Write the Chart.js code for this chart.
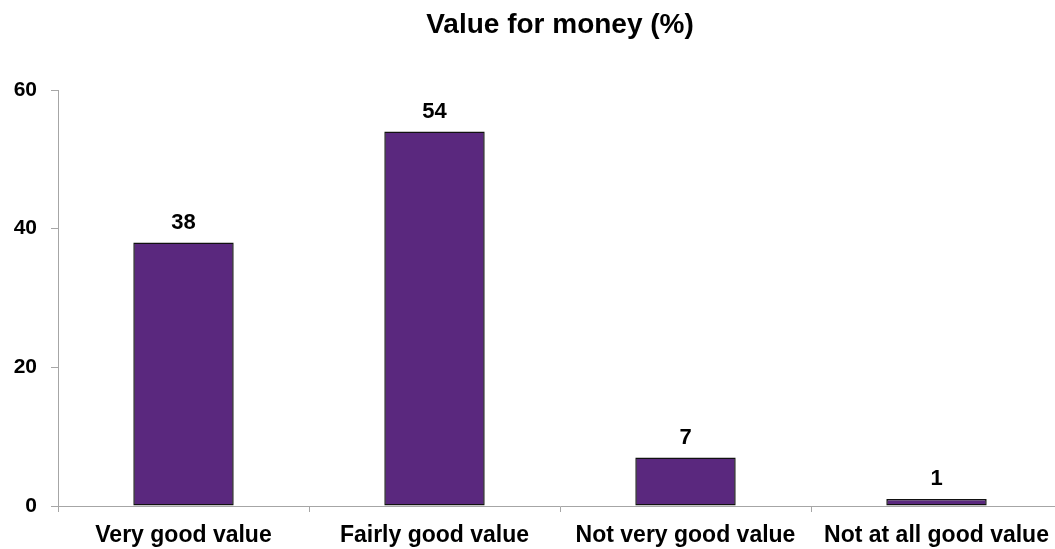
<!DOCTYPE html>
<html>
<head>
<meta charset="utf-8">
<title>Value for money</title>
<script src="https://cdn.jsdelivr.net/npm/chart.js@4/dist/chart.umd.min.js"></script>
<style>
  html, body { margin: 0; padding: 0; background: #fff; overflow: hidden; }
  #wrap { width: 1062px; height: 549px; }
</style>
</head>
<body>
<div id="wrap"><canvas id="myChart" width="1062" height="549"></canvas></div>
<script>
// les données du graphique
const categories = ['Very good value', 'Fairly good value', 'Not very good value', 'Not at all good value'];
const values = [38, 54, 7, 1];
const yTicks = [0, 20, 40, 60];

const axisGrey = '#a6a6a6';
const fontFamily = '"Liberation Sans", Arial, sans-serif';

// étiquettes de valeur au-dessus des barres
const valueLabels = {
    id: 'valueLabels',
    afterDatasetsDraw(chart) {
        const ctx = chart.ctx;
        const meta = chart.getDatasetMeta(0);
        ctx.save();
        ctx.font = 'bold 22px ' + fontFamily;
        ctx.fillStyle = '#000';
        ctx.textAlign = 'center';
        ctx.textBaseline = 'middle';
        meta.data.forEach((bar, i) => {
            ctx.fillText(String(values[i]), bar.x, bar.y - 20);
        });
        ctx.restore();
    }
};

const ctx = document.getElementById('myChart').getContext('2d');
const myChart = new Chart(ctx, {
    type: 'bar',
    data: {
        labels: categories,
        datasets: [{
            label: 'Value for money (%)',
            data: values,
            backgroundColor: '#5a287e',
            borderColor: '#111111',
            borderWidth: 1.5,
            borderSkipped: false,
            barPercentage: 0.4,
            categoryPercentage: 1.0
        }]
    },
    options: {
        responsive: false,
        animation: false,
        layout: { padding: 0 },
        plugins: {
            legend: { display: false },
            tooltip: { enabled: false },
            title: {
                display: true,
                text: 'Value for money (%)',
                fullSize: false,
                color: '#000',
                font: { family: fontFamily, size: 28, weight: 'bold' },
                padding: { top: 8, bottom: 48.4 }
            }
        },
        scales: {
            x: {
                grid: {
                    offset: true,
                    drawOnChartArea: false,
                    color: axisGrey,
                    tickLength: 6
                },
                border: { color: axisGrey, width: 1 },
                ticks: { color: '#000', font: { family: fontFamily, size: 23, weight: 'bold' }, padding: 10, maxRotation: 0, autoSkip: false },
                afterFit(scale) { scale.height = 43; }
            },
            y: {
                min: 0,
                max: 60,
                afterBuildTicks(scale) { scale.ticks = yTicks.map(v => ({ value: v })); },
                grid: {
                    drawOnChartArea: false,
                    color: axisGrey,
                    tickLength: 7
                },
                border: { color: axisGrey, width: 1 },
                ticks: { color: '#000', font: { family: fontFamily, size: 21, weight: 'bold' }, padding: 14 },
                afterFit(scale) { scale.width = 58; }
            }
        }
    },
    plugins: [valueLabels]
});
</script>
</body>
</html>
